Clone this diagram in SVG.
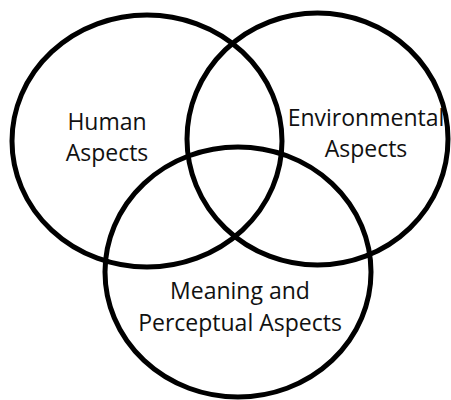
<svg xmlns="http://www.w3.org/2000/svg" width="451" height="400" viewBox="0 0 451 400">
  <style>
    .set { fill: none; stroke: #000; stroke-width: 5; }
    .label { font-family: "Open Sans", "Liberation Sans", sans-serif; font-size: 23px; fill: #111; text-anchor: middle; }
  </style>
  <rect width="451" height="400" fill="#fff"/>
  <g id="human">
    <ellipse class="set" cx="147" cy="141" rx="135" ry="126"/>
    <text class="label" x="107" y="130">Human</text>
    <text class="label" x="107" y="161">Aspects</text>
  </g>
  <g id="environmental">
    <ellipse class="set" cx="317.5" cy="139" rx="130.5" ry="126"/>
    <text class="label" x="366" y="126">Environmental</text>
    <text class="label" x="366" y="157">Aspects</text>
  </g>
  <g id="meaning">
    <ellipse class="set" cx="238" cy="272" rx="133" ry="125"/>
    <text class="label" x="240" y="299">Meaning and</text>
    <text class="label" x="240" y="331">Perceptual Aspects</text>
  </g>
  <g id="connectors"/>
</svg>
